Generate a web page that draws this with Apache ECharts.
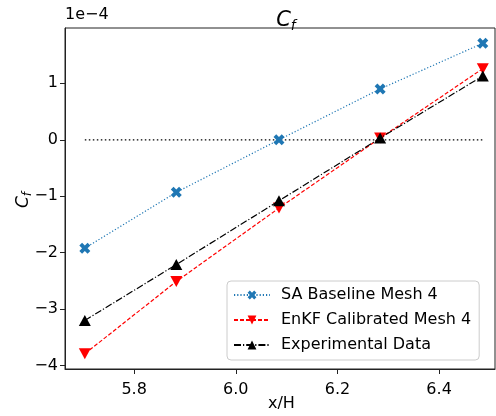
<!DOCTYPE html>
<html>
<head>
<meta charset="utf-8">
<script src="https://cdn.jsdelivr.net/npm/echarts@6/dist/echarts.min.js"></script>
<style>html,body{margin:0;padding:0;background:#fff}#c{width:496px;height:416px}</style>
</head>
<body>
<div id="c"></div>
<script>
// data (C_f in units of 1e-4)
var xVals = [5.703, 5.883, 6.085, 6.284, 6.486];
var saBaseline = [-1.92, -0.93, 0.0, 0.90, 1.71];
var enkfCalibrated = [-3.79, -2.51, -1.21, 0.03, 1.26];
var experimental = [-3.20, -2.21, -1.08, 0.03, 1.13];
var xTicks = [5.8, 6.0, 6.2, 6.4];
var yTicks = [-4, -3, -2, -1, 0, 1];
var seriesNames = ['SA Baseline Mesh 4', 'EnKF Calibrated Mesh 4', 'Experimental Data'];

function pairs(ys){ return xVals.map(function(x,i){ return [x, ys[i]]; }); }
var FONT = 'DejaVu Sans';
var xShape = 'path://M25,0 L50,25 L75,0 L100,25 L75,50 L100,75 L75,100 L50,75 L25,100 L0,75 L25,50 L0,25 Z';

var chart = echarts.init(document.getElementById('c'), null, {renderer:'canvas'});
chart.setOption({
  animation: false,
  backgroundColor: '#fff',
  textStyle: {fontFamily: FONT},
  grid: {left: 65, top: 28, right: 1, bottom: 47, show: true, borderColor: '#222', borderWidth: 1},
  title: {
    text: '{c|C}{f|f}', left: 281, top: 4, textAlign: 'center',
    textStyle: {fontWeight: 'normal', rich: {
      c: {fontFamily: FONT, fontStyle: 'italic', fontWeight: 'normal', fontSize: 21, color: '#000'},
      f: {fontFamily: FONT, fontStyle: 'italic', fontWeight: 'normal', fontSize: 14, color: '#000', padding: [10,0,0,0]}
    }}
  },
  graphic: [
    {type: 'text', left: 65, top: 7, style: {text: '1e\u22124', font: '16px "DejaVu Sans"', fill: '#000'}},
    {type: 'text', x: 14, y: 208, rotation: Math.PI/2,
     style: {text: '{c|C}{f|f}', rich: {
       c: {fontFamily: FONT, fontStyle: 'italic', fontSize: 17, color: '#000'},
       f: {fontFamily: FONT, fontStyle: 'italic', fontSize: 12, color: '#000', padding: [8,0,0,0]}
     }}},
    {type: 'text', left: 268, top: 396, style: {text: 'x/H', font: '16px "DejaVu Sans"', fill: '#000'}}
  ],
  legend: {
    orient: 'vertical', left: 227, top: 281,
    padding: [6, 8, 7, 6], itemGap: 9, itemWidth: 36, itemHeight: 11,
    borderColor: '#cccccc', borderWidth: 1, borderRadius: 4, backgroundColor: 'rgba(255,255,255,0.85)',
    textStyle: {fontFamily: FONT, fontSize: 16, color: '#000', padding: [0,0,0,6]},
    data: seriesNames
  },
  xAxis: {
    type: 'value', min: 5.664, max: 6.51,
    axisLine: {show: true, onZero: false, lineStyle: {color: '#222'}},
    splitLine: {show: false},
    axisTick: {show: true, length: 5, lineStyle: {color: '#222'}, customValues: xTicks},
    axisLabel: {fontFamily: FONT, fontSize: 16, color: '#000', margin: 13, customValues: xTicks,
      formatter: function(v){ return v.toFixed(1); }}
  },
  yAxis: {
    type: 'value', min: -4.06, max: 1.98,
    axisLine: {show: true, onZero: false, lineStyle: {color: '#222'}},
    splitLine: {show: false},
    axisTick: {show: true, length: 5, lineStyle: {color: '#222'}, customValues: yTicks},
    axisLabel: {fontFamily: FONT, fontSize: 16, color: '#000', margin: 7, customValues: yTicks,
      formatter: function(v){ return v < 0 ? '\u2212' + Math.abs(v) : String(v); }}
  },
  series: [
    {type: 'line', name: 'zero', data: [[xVals[0], 0], [xVals[xVals.length-1], 0]], showSymbol: false, symbol: 'none',
     lineStyle: {color: '#000', width: 1.3, type: [1.5, 2.5]}, z: 1, silent: true},
    {type: 'line', name: seriesNames[0], data: pairs(saBaseline), symbol: xShape, symbolSize: 11,
     itemStyle: {color: '#1f77b4'}, lineStyle: {color: '#1f77b4', width: 1.2, type: [1.2, 2]}, z: 3},
    {type: 'line', name: seriesNames[1], data: pairs(enkfCalibrated), symbol: 'triangle', symbolRotate: 180, symbolSize: [12, 11],
     itemStyle: {color: '#ff0000'}, lineStyle: {color: '#ff0000', width: 1.2, type: [4, 2]}, z: 4},
    {type: 'line', name: seriesNames[2], data: pairs(experimental), symbol: 'triangle', symbolSize: [12, 11],
     itemStyle: {color: '#000'}, lineStyle: {color: '#000', width: 1.2, type: [7, 2, 1.2, 2]}, z: 5}
  ]
});
</script>
</body>
</html>
